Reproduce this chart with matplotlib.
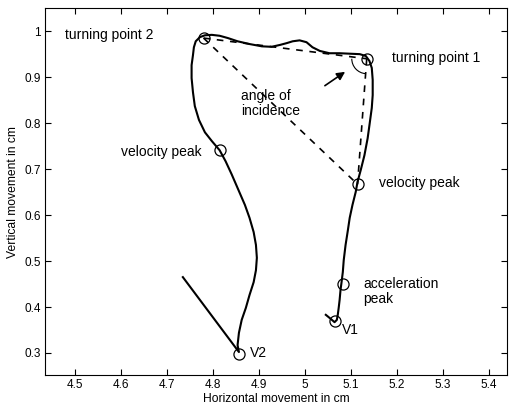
import numpy as np
import matplotlib.pyplot as plt
from matplotlib.patches import Arc

plt.rcParams['font.family'] = ['Liberation Sans', 'DejaVu Sans']

# trajectory: V1 -> TP1 -> TP2 -> V2 -> end
traj_x = [5.046, 5.057, 5.065, 5.070, 5.072, 5.074, 5.076, 5.078, 5.080, 5.083,
          5.085, 5.089, 5.094, 5.098, 5.104, 5.111, 5.115, 5.122, 5.130, 5.137,
          5.141, 5.146, 5.148, 5.148, 5.146, 5.141, 5.133, 5.120, 5.098, 5.076,
          5.054, 5.033, 5.017, 5.004, 4.989, 4.974, 4.961, 4.946, 4.928, 4.907,
          4.880, 4.854, 4.833, 4.815, 4.798, 4.783, 4.772, 4.763, 4.759, 4.757,
          4.754, 4.754, 4.757, 4.761, 4.770, 4.783, 4.798, 4.815, 4.828, 4.841,
          4.854, 4.870, 4.880, 4.889, 4.894, 4.896, 4.894, 4.889, 4.880, 4.872,
          4.863, 4.857, 4.854, 4.857, 4.735]
traj_y = [0.383, 0.374, 0.367, 0.372, 0.383, 0.398, 0.415, 0.437, 0.452, 0.476,
          0.502, 0.535, 0.567, 0.594, 0.622, 0.650, 0.672, 0.698, 0.730, 0.767,
          0.796, 0.833, 0.861, 0.894, 0.920, 0.935, 0.946, 0.950, 0.951, 0.952,
          0.952, 0.957, 0.965, 0.976, 0.980, 0.978, 0.974, 0.970, 0.966, 0.967,
          0.972, 0.978, 0.985, 0.990, 0.992, 0.991, 0.987, 0.978, 0.965, 0.948,
          0.926, 0.898, 0.867, 0.837, 0.807, 0.780, 0.761, 0.741, 0.717, 0.689,
          0.659, 0.622, 0.594, 0.563, 0.535, 0.507, 0.480, 0.454, 0.426, 0.398,
          0.372, 0.344, 0.317, 0.302, 0.465]

# marked points
pt_names = ['V1', 'acc peak', 'vel peak 1', 'turning point 1', 'turning point 2', 'vel peak 2', 'V2']
pt_x = [5.065, 5.083, 5.115, 5.135, 4.780, 4.815, 4.858]
pt_y = [0.370, 0.450, 0.667, 0.940, 0.985, 0.741, 0.298]

fig = plt.figure(figsize=(5.11, 4.09), dpi=100)
ax = fig.add_axes([0.088, 0.083, 0.904, 0.897])

ax.plot(traj_x, traj_y, color='black', linewidth=1.5)

# dashed triangle: TP2-TP1, TP2-VP1, TP1-VP1
tp1 = (pt_x[3], pt_y[3])
tp2 = (pt_x[4], pt_y[4])
vp1 = (pt_x[2], pt_y[2])
for a, b in [(tp2, tp1), (tp2, vp1), (tp1, vp1)]:
    ax.plot([a[0], b[0]], [a[1], b[1]], color='black', linestyle=(0, (4, 4)), linewidth=1.2)

ax.plot(pt_x, pt_y, linestyle='none', marker='o', markersize=8,
        markerfacecolor='none', markeredgecolor='black', markeredgewidth=0.9)

# angle arc + arrow
ax.add_patch(Arc(tp1, 0.065, 0.065, theta1=180, theta2=265, color='black', linewidth=0.8))
ax.annotate('', xy=(5.093, 0.915), xytext=(5.039, 0.878),
            arrowprops=dict(arrowstyle='-|>', color='black', lw=1.2, mutation_scale=12))

fs = 10
ax.text(4.478, 0.991, 'turning point 2', fontsize=fs, va='center')
ax.text(5.191, 0.941, 'turning point 1', fontsize=fs, va='center')
ax.text(4.861, 0.843, 'angle of\nincidence', fontsize=fs, va='center', linespacing=1.15)
ax.text(4.600, 0.737, 'velocity peak', fontsize=fs, va='center')
ax.text(5.161, 0.670, 'velocity peak', fontsize=fs, va='center')
ax.text(5.128, 0.433, 'acceleration\npeak', fontsize=fs, va='center', linespacing=1.1)
ax.text(5.080, 0.350, 'V1', fontsize=fs, va='center')
ax.text(4.880, 0.300, 'V2', fontsize=fs, va='center')

ax.set_xlim(4.435, 5.44)
ax.set_ylim(0.252, 1.05)
ax.set_xticks([4.5, 4.6, 4.7, 4.8, 4.9, 5.0, 5.1, 5.2, 5.3, 5.4])
ax.set_xticklabels(['4.5', '4.6', '4.7', '4.8', '4.9', '5', '5.1', '5.2', '5.3', '5.4'])
ax.set_yticks([0.3, 0.4, 0.5, 0.6, 0.7, 0.8, 0.9, 1.0])
ax.set_yticklabels(['0.3', '0.4', '0.5', '0.6', '0.7', '0.8', '0.9', '1'])
ax.tick_params(direction='in', top=True, right=True, length=4, labelsize=8.5, pad=3)
ax.set_xlabel('Horizontal movement in cm', fontsize=8.7, labelpad=1)
ax.set_ylabel('Vertical movement in cm', fontsize=8.7, labelpad=4)

fig.savefig('out.png', dpi=100)
